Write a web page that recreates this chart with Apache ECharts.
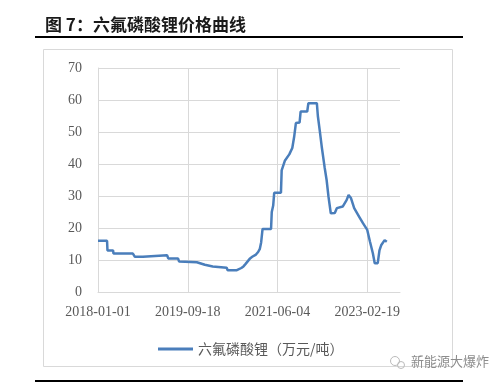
<!DOCTYPE html>
<html>
<head>
<meta charset="utf-8">
<script src="https://cdn.jsdelivr.net/npm/echarts@6/dist/echarts.min.js"></script>
<style>
html,body{margin:0;padding:0;background:#fff;}
#chart{width:500px;height:384px;}
</style>
</head>
<body>
<div id="chart"></div>
<script>
// ---- data ----
var titleText = '图 7：六氟磷酸锂价格曲线';
var seriesName = '六氟磷酸锂（万元/吨）';
var sourceText = '新能源大爆炸';
var tickLabels = ['2018-01-01', '2019-09-18', '2021-06-04', '2023-02-19'];
var yTicks = [0, 10, 20, 30, 40, 50, 60, 70];
var dates = [
  '2018-01-01','2018-03-05','2018-03-08','2018-04-16','2018-04-19','2018-09-01','2018-09-15','2018-11-10','2018-11-20',
  '2019-04-27','2019-05-05','2019-07-12','2019-07-20','2019-11-20','2019-12-01','2020-01-15','2020-01-25','2020-03-10',
  '2020-03-20','2020-06-15','2020-06-22','2020-08-25','2020-09-05','2020-09-25','2020-10-10','2020-10-25','2020-11-05',
  '2020-11-25','2020-12-10','2021-01-05','2021-01-20','2021-02-01','2021-02-10','2021-02-20','2021-04-20','2021-04-25',
  '2021-05-05','2021-05-12','2021-06-28','2021-07-03','2021-07-25','2021-08-25','2021-09-15','2021-09-28','2021-10-10',
  '2021-11-05','2021-11-12','2021-12-28','2022-01-05','2022-03-05','2022-03-12','2022-03-25','2022-04-08','2022-04-28',
  '2022-05-12','2022-05-25','2022-06-10','2022-07-08','2022-07-22','2022-09-01','2022-09-28','2022-10-12','2022-10-28',
  '2022-11-20','2022-12-25','2023-01-20','2023-02-19','2023-03-10','2023-03-30','2023-04-12','2023-05-03','2023-05-15',
  '2023-05-28','2023-06-20','2023-07-05'
];
var prices = [
  16,16,13,13,12,12,11,11,11.5,
  11.5,10.5,10.5,9.5,9.3,8.7,8.5,8.1,8,
  7.8,7.6,6.8,6.8,7.3,7.5,8,8.8,9.3,
  10.5,11,11.7,12.5,13.5,15.5,19.7,19.7,25,
  27,31,31,38,41,43,45,48.5,52.8,
  53,56.4,56.4,59,59,55,50.5,45.4,39,
  35,29.8,24.6,24.7,26.2,26.7,28.7,30.3,29.4,
  26.2,23.5,21.5,19.4,15.7,12.1,9,9,13,
  14.7,16.2,15.7
];
var xMaxDate = '2023-10-05';

// ---- helpers ----
var base = Date.UTC(2018, 0, 1);
function dayOf(s) {
  var p = s.split('-');
  return Math.round((Date.UTC(+p[0], +p[1] - 1, +p[2]) - base) / 86400000);
}
var points = dates.map(function (d, i) { return [dayOf(d), prices[i]]; });
var tickDays = tickLabels.map(dayOf);
var xInterval = tickDays[1] - tickDays[0];

var chart = echarts.init(document.getElementById('chart'), null, { renderer: 'canvas' });
var gridColor = '#d9d9d9';
var lineColor = '#4a7ebb';
var labelFont = '"Liberation Serif", "Times New Roman", serif';
var cjkFont = '"Noto Sans CJK SC", sans-serif';

chart.setOption({
  animation: false,
  backgroundColor: '#ffffff',
  grid: { left: 98, right: 100, top: 68, bottom: 92, containLabel: false },
  xAxis: {
    type: 'value',
    min: 0,
    max: dayOf(xMaxDate),
    interval: xInterval,
    axisLine: { show: true, lineStyle: { color: gridColor, width: 1 } },
    axisTick: { show: false },
    axisLabel: {
      showMaxLabel: false,
      color: '#595959',
      fontFamily: labelFont,
      fontSize: 14,
      margin: 13,
      formatter: function (v, i) { return tickLabels[i] || ''; }
    },
    splitLine: {
      show: true,
      lineStyle: { color: [gridColor, gridColor, gridColor, gridColor, 'rgba(0,0,0,0)'], width: 1 }
    }
  },
  yAxis: {
    type: 'value',
    min: yTicks[0],
    max: yTicks[yTicks.length - 1],
    interval: yTicks[1] - yTicks[0],
    axisLine: { show: true, lineStyle: { color: gridColor, width: 1 } },
    axisTick: { show: false },
    axisLabel: { color: '#595959', fontFamily: labelFont, fontSize: 14, margin: 16 },
    splitLine: { show: true, lineStyle: { color: gridColor, width: 1 } }
  },
  legend: {
    left: 153,
    top: 337,
    itemWidth: 35,
    itemHeight: 3,
    icon: 'rect',
    itemStyle: { color: lineColor },
    textStyle: { color: '#595959', fontFamily: cjkFont, fontSize: 14 },
    data: [seriesName]
  },
  series: [{
    name: seriesName,
    type: 'line',
    data: points,
    symbol: 'none',
    lineStyle: { color: lineColor, width: 2.5 },
    itemStyle: { color: lineColor }
  }],
  graphic: [
    { type: 'text', left: 45, top: 16, style: { text: titleText, font: 'bold 17px ' + cjkFont, fill: '#1a1a1a' } },
    { type: 'rect', shape: { x: 35, y: 36, width: 428, height: 2 }, style: { fill: '#000' } },
    { type: 'rect', shape: { x: 43.5, y: 49.5, width: 409, height: 317 }, style: { fill: 'none', stroke: gridColor, lineWidth: 1 } },
    { type: 'rect', shape: { x: 35, y: 380, width: 428, height: 2 }, style: { fill: '#000' } },
    { type: 'circle', shape: { cx: 395, cy: 361, r: 4.5 }, style: { fill: 'none', stroke: '#bbb', lineWidth: 1 } },
    { type: 'circle', shape: { cx: 401, cy: 365, r: 3.5 }, style: { fill: 'none', stroke: '#bbb', lineWidth: 1 } },
    { type: 'text', left: 411, top: 355, style: { text: sourceText, font: '13px ' + cjkFont, fill: '#8c8c8c' } }
  ]
});
</script>
</body>
</html>
